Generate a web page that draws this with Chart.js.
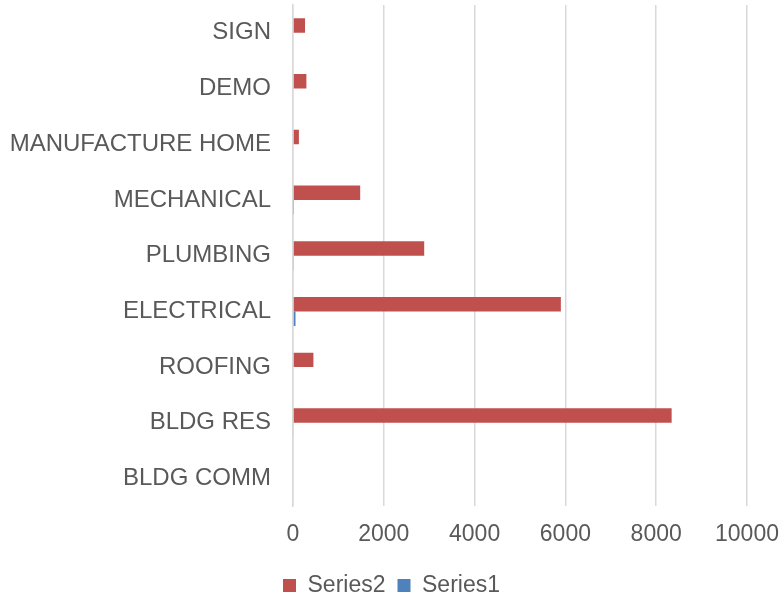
<!DOCTYPE html>
<html>
<head>
<meta charset="utf-8">
<script src="https://cdn.jsdelivr.net/npm/chart.js@4/dist/chart.umd.min.js"></script>
<style>
  html, body { margin: 0; padding: 0; background: #fff; }
  #wrap { width: 781px; height: 596px; position: relative; }
</style>
</head>
<body>
<div id="wrap"><canvas id="permits"></canvas></div>
<script>
// categories, top to bottom as shown
var categories = ['SIGN', 'DEMO', 'MANUFACTURE HOME', 'MECHANICAL', 'PLUMBING', 'ELECTRICAL', 'ROOFING', 'BLDG RES', 'BLDG COMM'];
var series2 = [265, 295, 130, 1480, 2890, 5900, 450, 8340, 0];
var series1 = [0, 0, 0, 10, 20, 55, 0, 15, 0];
var xTicks = [0, 2000, 4000, 6000, 8000, 10000];

var textColor = '#595959';
var gridColor = '#D9D9D9';
var fontFamily = 'Liberation Sans, Arial, sans-serif';

var ctx = document.getElementById('permits').getContext('2d');
var myChart = new Chart(ctx, {
  type: 'bar',
  data: {
    labels: categories,
    datasets: [{
      label: 'Series2',
      data: series2,
      backgroundColor: '#C0504D',
      barPercentage: 1,
      categoryPercentage: 0.52
    }, {
      label: 'Series1',
      data: series1,
      backgroundColor: '#4F81BD',
      barPercentage: 1,
      categoryPercentage: 0.52
    }]
  },
  options: {
    indexAxis: 'y',
    responsive: true,
    maintainAspectRatio: false,
    animation: false,
    devicePixelRatio: 1,
    layout: { padding: { left: 8, right: 6, top: 5, bottom: -11 } },
    plugins: {
      tooltip: { enabled: false },
      legend: {
        position: 'bottom',
        labels: {
          color: textColor,
          font: { family: fontFamily, size: 23 },
          boxWidth: 13,
          boxHeight: 13,
          padding: 12
        }
      }
    },
    scales: {
      x: {
        min: xTicks[0],
        max: xTicks[xTicks.length - 1],
        afterBuildTicks: function(axis) {
          axis.ticks = xTicks.map(function(v) { return { value: v }; });
        },
        afterFit: function(axis) { axis.paddingLeft = 0; axis.paddingRight = 34; },
        grid: { color: gridColor, lineWidth: 1.5, drawTicks: false },
        border: { display: false },
        ticks: {
          color: textColor,
          padding: 14,
          font: { family: fontFamily, size: 23 },
          callback: function(v) { return String(v); }
        }
      },
      y: {
        afterFit: function(axis) { axis.paddingTop = 0; axis.paddingBottom = 0; axis.width = 285; },
        grid: { display: false },
        border: { color: gridColor, width: 1.5 },
        ticks: {
          color: textColor,
          padding: 14,
          font: { family: fontFamily, size: 24 }
        }
      }
    }
  }
});
</script>
</body>
</html>
